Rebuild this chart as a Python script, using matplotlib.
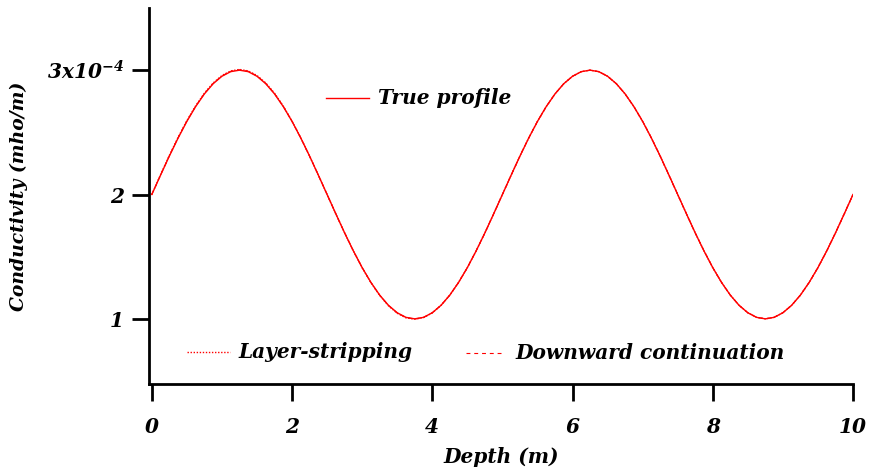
import matplotlib
matplotlib.use("Agg")
import matplotlib.pyplot as plt

# ---- data, conductivity in units of 1e-4 mho/m ----
depth = [0.000, 0.125, 0.250, 0.375, 0.500, 0.625, 0.750, 0.875, 1.000, 1.125,
         1.250, 1.375, 1.500, 1.625, 1.750, 1.875, 2.000, 2.125, 2.250, 2.375,
         2.500, 2.625, 2.750, 2.875, 3.000, 3.125, 3.250, 3.375, 3.500, 3.625,
         3.750, 3.875, 4.000, 4.125, 4.250, 4.375, 4.500, 4.625, 4.750, 4.875,
         5.000, 5.125, 5.250, 5.375, 5.500, 5.625, 5.750, 5.875, 6.000, 6.125,
         6.250, 6.375, 6.500, 6.625, 6.750, 6.875, 7.000, 7.125, 7.250, 7.375,
         7.500, 7.625, 7.750, 7.875, 8.000, 8.125, 8.250, 8.375, 8.500, 8.625,
         8.750, 8.875, 9.000, 9.125, 9.250, 9.375, 9.500, 9.625, 9.750, 9.875,
         10.000]

true_profile = [2.000, 2.156, 2.309, 2.454, 2.588, 2.707, 2.809, 2.891, 2.951, 2.988,
                3.000, 2.988, 2.951, 2.891, 2.809, 2.707, 2.588, 2.454, 2.309, 2.156,
                2.000, 1.844, 1.691, 1.546, 1.412, 1.293, 1.191, 1.109, 1.049, 1.012,
                1.000, 1.012, 1.049, 1.109, 1.191, 1.293, 1.412, 1.546, 1.691, 1.844,
                2.000, 2.156, 2.309, 2.454, 2.588, 2.707, 2.809, 2.891, 2.951, 2.988,
                3.000, 2.988, 2.951, 2.891, 2.809, 2.707, 2.588, 2.454, 2.309, 2.156,
                2.000, 1.844, 1.691, 1.546, 1.412, 1.293, 1.191, 1.109, 1.049, 1.012,
                1.000, 1.012, 1.049, 1.109, 1.191, 1.293, 1.412, 1.546, 1.691, 1.844,
                2.000]

layer_stripping = [2.000, 2.160, 2.314, 2.460, 2.594, 2.713, 2.815, 2.897, 2.957, 2.994,
                   3.006, 2.994, 2.957, 2.897, 2.815, 2.711, 2.590, 2.455, 2.309, 2.156,
                   2.000, 1.844, 1.691, 1.546, 1.411, 1.291, 1.188, 1.105, 1.045, 1.008,
                   0.997, 1.010, 1.048, 1.109, 1.191, 1.293, 1.412, 1.546, 1.691, 1.844,
                   2.000, 2.156, 2.309, 2.454, 2.588, 2.707, 2.809, 2.891, 2.951, 2.988,
                   3.000, 2.988, 2.951, 2.891, 2.809, 2.707, 2.588, 2.454, 2.309, 2.156,
                   2.000, 1.844, 1.691, 1.546, 1.412, 1.293, 1.191, 1.109, 1.049, 1.012,
                   1.000, 1.012, 1.049, 1.109, 1.191, 1.293, 1.412, 1.546, 1.691, 1.844,
                   2.000]

downward_cont = [2.000, 2.157, 2.311, 2.457, 2.591, 2.710, 2.812, 2.894, 2.954, 2.991,
                 3.003, 2.991, 2.954, 2.894, 2.812, 2.709, 2.589, 2.454, 2.309, 2.156,
                 2.000, 1.844, 1.691, 1.546, 1.412, 1.292, 1.190, 1.107, 1.047, 1.010,
                 0.999, 1.011, 1.049, 1.109, 1.191, 1.293, 1.412, 1.546, 1.691, 1.844,
                 2.000, 2.156, 2.309, 2.454, 2.588, 2.707, 2.809, 2.891, 2.951, 2.988,
                 3.000, 2.988, 2.951, 2.891, 2.809, 2.707, 2.588, 2.454, 2.309, 2.156,
                 2.000, 1.844, 1.691, 1.546, 1.412, 1.293, 1.191, 1.109, 1.049, 1.012,
                 1.000, 1.012, 1.049, 1.109, 1.191, 1.293, 1.412, 1.546, 1.691, 1.844,
                 2.000]

x_ticks = [0, 2, 4, 6, 8, 10]
y_ticks = [1, 2, 3]
y_tick_labels = ["1", "2", r"3x10$^{-4}$"]

FONT = "DejaVu Serif"
plt.rcParams["font.family"] = FONT
plt.rcParams["font.weight"] = "bold"
plt.rcParams["font.style"] = "italic"
plt.rcParams["axes.labelweight"] = "bold"
plt.rcParams["mathtext.fontset"] = "custom"
plt.rcParams["mathtext.rm"] = FONT + ":bold:italic"
plt.rcParams["mathtext.it"] = FONT + ":bold:italic"
plt.rcParams["mathtext.bf"] = FONT + ":bold:italic"

fig = plt.figure(figsize=(8.69, 4.73), dpi=100)
ax = fig.add_axes([149/869, 1 - 384/473, (853 - 149)/869, (384 - 8)/473])

red = "#ff0000"
ax.plot(depth, true_profile, color=red, lw=1.0)
ax.plot(depth, layer_stripping, color=red, lw=1.0, ls=(0, (1, 1.2)))
ax.plot(depth, downward_cont, color=red, lw=0.8, ls=(0, (3.5, 3.5)))

ax.set_xlim(-0.04, 10.0)
ax.set_ylim(0.476, 3.5)

for s in ["top", "right"]:
    ax.spines[s].set_visible(False)
for s in ["left", "bottom"]:
    ax.spines[s].set_linewidth(2.0)

ax.set_xticks(x_ticks)
ax.set_xticklabels([str(t) for t in x_ticks])
ax.set_yticks(y_ticks)
ax.set_yticklabels(y_tick_labels)
ax.tick_params(direction="out", length=12, width=2.0, labelsize=14.5)
ax.tick_params(axis="x", pad=12)
ax.tick_params(axis="y", pad=6)

ax.set_xlabel("Depth (m)", fontsize=14.5, labelpad=7)
ax.set_ylabel("Conductivity (mho/m)", fontsize=13.5, labelpad=14)

# legend-like annotations placed inside the plot
fs = 14.5
ax.plot([2.48, 3.10], [2.774, 2.774], color=red, lw=1.0)
ax.text(3.22, 2.774, "True profile", fontsize=fs, va="center", ha="left")
ax.plot([0.50, 1.11], [0.734, 0.734], color=red, lw=1.0, ls=(0, (1, 1.2)))
ax.text(1.23, 0.734, "Layer-stripping", fontsize=fs, va="center", ha="left")
ax.plot([4.48, 5.01], [0.726, 0.726], color=red, lw=0.8, ls=(0, (3.5, 3.5)))
ax.text(5.19, 0.726, "Downward continuation", fontsize=fs, va="center", ha="left")

fig.savefig("out.png", dpi=100)
